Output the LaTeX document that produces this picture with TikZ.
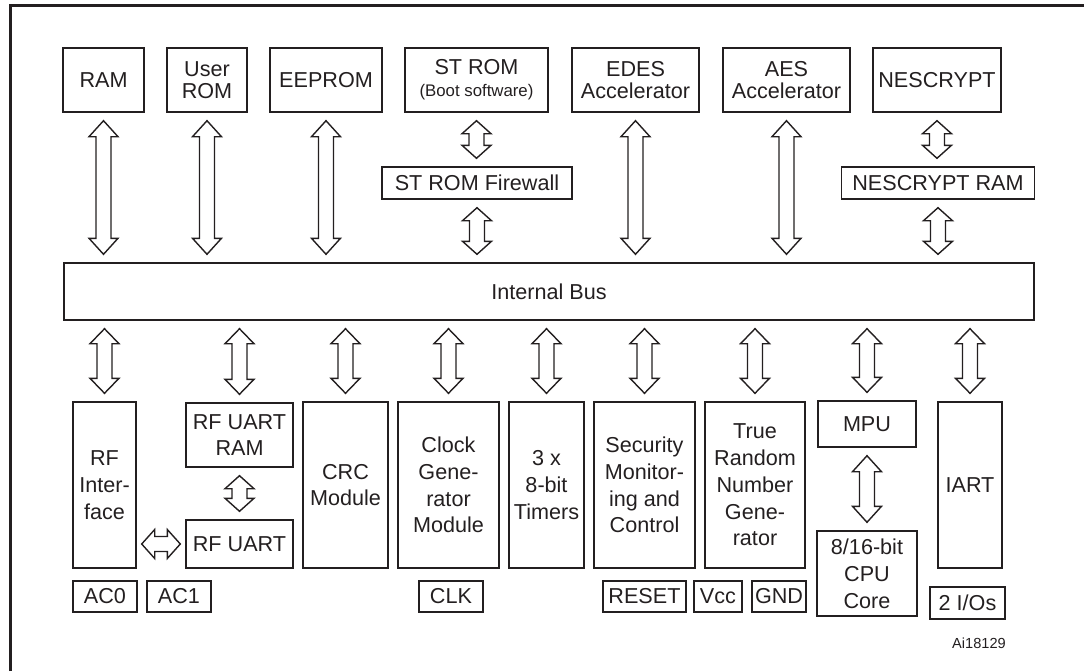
\documentclass[tikz,border=0pt]{standalone}
\usepackage{fontspec}
\setmainfont{Liberation Sans}
\usetikzlibrary{calc}

\definecolor{inkgrey}{RGB}{35,31,32}
\newcommand{\arrhw}{7.25pt}
\newcommand{\arrsw}{3.75pt}
\newcommand{\arrgap}{4pt}

\tikzset{
  boxsize/.style 2 args={minimum width=#1*0.5pt, minimum height=#2*0.5pt},
  block/.style={draw=inkgrey, line width=0.7pt, text=inkgrey, inner sep=0pt,
    align=center, font=\fontsize{10.8}{13.4}\selectfont},
  topblock/.style={block, font=\fontsize{10.8}{11}\selectfont},
  % open double block arrow, top to bottom
  fatarrow/.style={draw=inkgrey, line width=0.7pt, fill=white, line join=miter,
    to path={let \p1=(\tikztostart), \p2=(\tikztotarget) in
      (\x1,\y1-\arrgap) -- (\x1-\arrhw,\y1-\arrgap-#1) -- (\x1-\arrsw,\y1-\arrgap-#1)
      -- (\x1-\arrsw,\y2+\arrgap+#1) -- (\x1-\arrhw,\y2+\arrgap+#1) -- (\x1,\y2+\arrgap)
      -- (\x1+\arrhw,\y2+\arrgap+#1) -- (\x1+\arrsw,\y2+\arrgap+#1)
      -- (\x1+\arrsw,\y1-\arrgap-#1) -- (\x1+\arrhw,\y1-\arrgap-#1) -- cycle}},
  fatarrow/.default=8pt,
  % same, left to right
  fatharrow/.style={draw=inkgrey, line width=0.7pt, fill=white, line join=miter,
    to path={let \p1=(\tikztostart), \p2=(\tikztotarget) in
      (\x1+2.5pt,\y1) -- (\x1+2.5pt+#1,\y1+\arrhw) -- (\x1+2.5pt+#1,\y1+\arrsw)
      -- (\x2-2.5pt-#1,\y1+\arrsw) -- (\x2-2.5pt-#1,\y1+\arrhw) -- (\x2-2.5pt,\y1)
      -- (\x2-2.5pt-#1,\y1-\arrhw) -- (\x2-2.5pt-#1,\y1-\arrsw)
      -- (\x1+2.5pt+#1,\y1-\arrsw) -- (\x1+2.5pt+#1,\y1-\arrhw) -- cycle}},
  fatharrow/.default=6.5pt,
}

\begin{document}
\begin{tikzpicture}[x=0.5pt, y=-0.5pt]
    \useasboundingbox (0,0) rectangle (1084,671);

    % Frame
    \draw[line width=1.4pt, inkgrey] (10.5,671) -- (10.5,5.3) -- (1084,5.3);

    % Memories and accelerators
    \node[topblock, boxsize={81}{64}] (ram) at (103.5,80) {RAM};
    \node[topblock, boxsize={80}{64}] (urom) at (207,80) {User\\ROM};
    \node[topblock, boxsize={112}{64}] (eeprom) at (326,80) {EEPROM};
    \node[topblock, boxsize={143}{64}] (strom) at (476.5,80) {ST ROM\\{\fontsize{8.4}{10}\selectfont (Boot software)}};
    \node[topblock, boxsize={127}{64}] (edes) at (635.5,80) {EDES\\Accelerator};
    \node[topblock, boxsize={127}{64}] (aes) at (786.5,80) {AES\\Accelerator};
    \node[topblock, boxsize={128}{64}] (nescrypt) at (937,80) {NESCRYPT};
    \node[block, boxsize={190}{32}] (fw) at (477,183) {ST ROM Firewall};
    \node[block, boxsize={193}{32}] (nesram) at (938,183) {NESCRYPT RAM};

    % Internal bus
    \node[block, boxsize={970}{57}] (bus) at (549,291.5) {Internal Bus};

    % Peripherals
    \node[block, boxsize={63}{166}] (rfif) at (104.5,485) {RF\\Inter-\\face};
    \node[block, boxsize={107}{64}] (rfram) at (239.5,435) {RF UART\\RAM};
    \node[block, boxsize={107}{48}] (rfuart) at (239.5,544) {RF UART};
    \node[block, boxsize={85}{166}] (crc) at (345.5,485) {CRC\\Module};
    \node[block, boxsize={101}{166}] (clock) at (448.5,485) {Clock\\Gene-\\rator\\Module};
    \node[block, boxsize={75}{166}] (timers) at (546.5,485) {3 x\\8-bit\\Timers};
    \node[block, boxsize={101}{166}] (secmon) at (644.5,485) {Security\\Monitor-\\ing and\\Control};
    \node[block, boxsize={100}{166}] (trng) at (755,485) {True\\Random\\Number\\Gene-\\rator};
    \node[block, boxsize={98}{46}] (mpu) at (867,424) {MPU};
    \node[block, boxsize={100}{85}] (cpu) at (867,573.5) {8/16-bit\\CPU\\Core};
    \node[block, boxsize={64}{166}] (iart) at (970,485) {IART};

    % Pins
    \node[block, boxsize={64}{31}] (ac0) at (105,596.5) {AC0};
    \node[block, boxsize={64}{31}] (ac1) at (179,596.5) {AC1};
    \node[block, boxsize={64}{31}] (clk) at (451,596.5) {CLK};
    \node[block, boxsize={83}{31}] (reset) at (644.5,596.5) {RESET};
    \node[block, boxsize={48}{31}] (vcc) at (718,596.5) {Vcc};
    \node[block, boxsize={54}{31}] (gnd) at (779,596.5) {GND};
    \node[block, boxsize={75}{32}] (io) at (967.5,603) {2 I/Os};
    \node[text=inkgrey, font=\fontsize{7.3}{8}\selectfont] (ref) at (979,643) {Ai18129};

    % Arrows to the bus
    \foreach \m in {ram,urom,eeprom,edes,aes}
      \draw[fatarrow] (\m.south) to (\m.south |- bus.north);
    \draw[fatarrow=6.5pt] (strom.south) to (fw.north);
    \draw[fatarrow=6.5pt] (fw.south) to (fw.south |- bus.north);
    \draw[fatarrow=6.5pt] (nescrypt.south) to (nesram.north);
    \draw[fatarrow=6.5pt] (nesram.south) to (nesram.south |- bus.north);

    % Arrows from the bus
    \foreach \m in {rfif,rfram,crc,clock,timers,secmon,trng,mpu,iart}
      \draw[fatarrow=7.5pt] (\m.north |- bus.south) to (\m.north);
    \draw[fatarrow=6.5pt] (rfram.south) to (rfuart.north);
    \draw[fatarrow] (mpu.south) to (cpu.north);
    \draw[fatharrow] (rfif.east |- rfuart.west) to (rfuart.west);
  \end{tikzpicture}
\end{document}
